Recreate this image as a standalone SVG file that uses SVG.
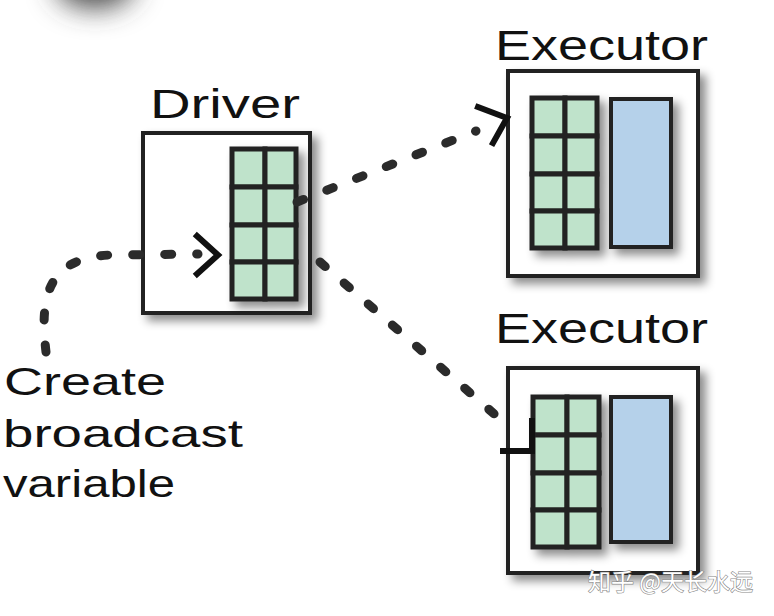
<svg xmlns="http://www.w3.org/2000/svg" width="774" height="616" viewBox="0 0 774 616">
<style>
.box{fill:#fff;stroke:#222;stroke-width:4;filter:url(#sh)}
.cell{fill:#bfe3cb;stroke:#222;stroke-width:5}
.blue{fill:#b5d1ea;stroke:#222;stroke-width:4}
.lbl{font-family:"Liberation Sans",Arial,sans-serif;fill:#111}
.dot{fill:none;stroke:#2b2b2b;stroke-width:9;stroke-dasharray:7 25;stroke-linecap:round}
.head{fill:none;stroke:#111;stroke-width:6;stroke-linecap:square}
.wm{font-family:"Noto Sans CJK SC","Liberation Sans",sans-serif;font-size:23px;fill:#fff;stroke:#888;stroke-width:1.2;paint-order:stroke}
</style>
<defs>
<filter id="sh" x="-10%" y="-10%" width="130%" height="130%">
<feDropShadow dx="6" dy="6" stdDeviation="5" flood-color="#000" flood-opacity="0.45"/>
</filter>
<filter id="blur" x="-100%" y="-100%" width="300%" height="300%">
<feGaussianBlur stdDeviation="14"/>
</filter>
</defs>
<rect width="774" height="616" fill="#fff"/>
<ellipse cx="95" cy="-18" rx="40" ry="26" fill="#444" filter="url(#blur)"/>

<g id="driver">
<text class="lbl" x="150" y="118" font-size="40" textLength="150" lengthAdjust="spacingAndGlyphs">Driver</text>
<rect class="box" x="143" y="133" width="167" height="180"/>
<g filter="url(#sh)">
<rect class="cell" x="232" y="149" width="33" height="38"/>
<rect class="cell" x="265" y="149" width="31" height="38"/>
<rect class="cell" x="232" y="187" width="33" height="38"/>
<rect class="cell" x="265" y="187" width="31" height="38"/>
<rect class="cell" x="232" y="225" width="33" height="37"/>
<rect class="cell" x="265" y="225" width="31" height="37"/>
<rect class="cell" x="232" y="262" width="33" height="37"/>
<rect class="cell" x="265" y="262" width="31" height="37"/>
</g>
</g>

<g id="executor1">
<text class="lbl" x="495" y="60" font-size="42" textLength="213" lengthAdjust="spacingAndGlyphs">Executor</text>
<rect class="box" x="508" y="71" width="190" height="205"/>
<g filter="url(#sh)">
<rect class="cell" x="532" y="98" width="33" height="38"/>
<rect class="cell" x="565" y="98" width="32" height="38"/>
<rect class="cell" x="532" y="136" width="33" height="38"/>
<rect class="cell" x="565" y="136" width="32" height="38"/>
<rect class="cell" x="532" y="174" width="33" height="37"/>
<rect class="cell" x="565" y="174" width="32" height="37"/>
<rect class="cell" x="532" y="211" width="33" height="37"/>
<rect class="cell" x="565" y="211" width="32" height="37"/>
<rect class="blue" x="611" y="99" width="60" height="148"/>
</g>
</g>

<g id="executor2">
<text class="lbl" x="495" y="343" font-size="42" textLength="213" lengthAdjust="spacingAndGlyphs">Executor</text>
<rect class="box" x="508" y="368" width="190" height="205"/>
<g filter="url(#sh)">
<rect class="cell" x="533" y="397" width="34" height="38"/>
<rect class="cell" x="567" y="397" width="32" height="38"/>
<rect class="cell" x="533" y="435" width="34" height="38"/>
<rect class="cell" x="567" y="435" width="32" height="38"/>
<rect class="cell" x="533" y="473" width="34" height="37"/>
<rect class="cell" x="567" y="473" width="32" height="37"/>
<rect class="cell" x="533" y="510" width="34" height="37"/>
<rect class="cell" x="567" y="510" width="32" height="37"/>
<rect class="blue" x="611" y="397" width="60" height="145"/>
</g>
</g>

<g id="label">
<text class="lbl" font-size="39">
<tspan x="4" y="395" textLength="162" lengthAdjust="spacingAndGlyphs">Create</tspan>
<tspan x="3" y="447" textLength="240" lengthAdjust="spacingAndGlyphs">broadcast</tspan>
<tspan x="3" y="497" textLength="172" lengthAdjust="spacingAndGlyphs">variable</tspan>
</text>
</g>

<g id="connectors">
<path class="dot" d="M46 352 C40 300 45 258 110 255 L198 254"/>
<path class="head" d="M197 236 L218 255 L197 274"/>
<path class="dot" d="M297 202 L476 131"/>
<path class="head" d="M478 107 L507 118 L493 143"/>
<path class="dot" d="M320 262 L508 426"/>
<path class="head" d="M532 421 L532 451 L503 451"/>
</g>

<text class="wm" x="588" y="590">知乎 @天长水远</text>
</svg>
